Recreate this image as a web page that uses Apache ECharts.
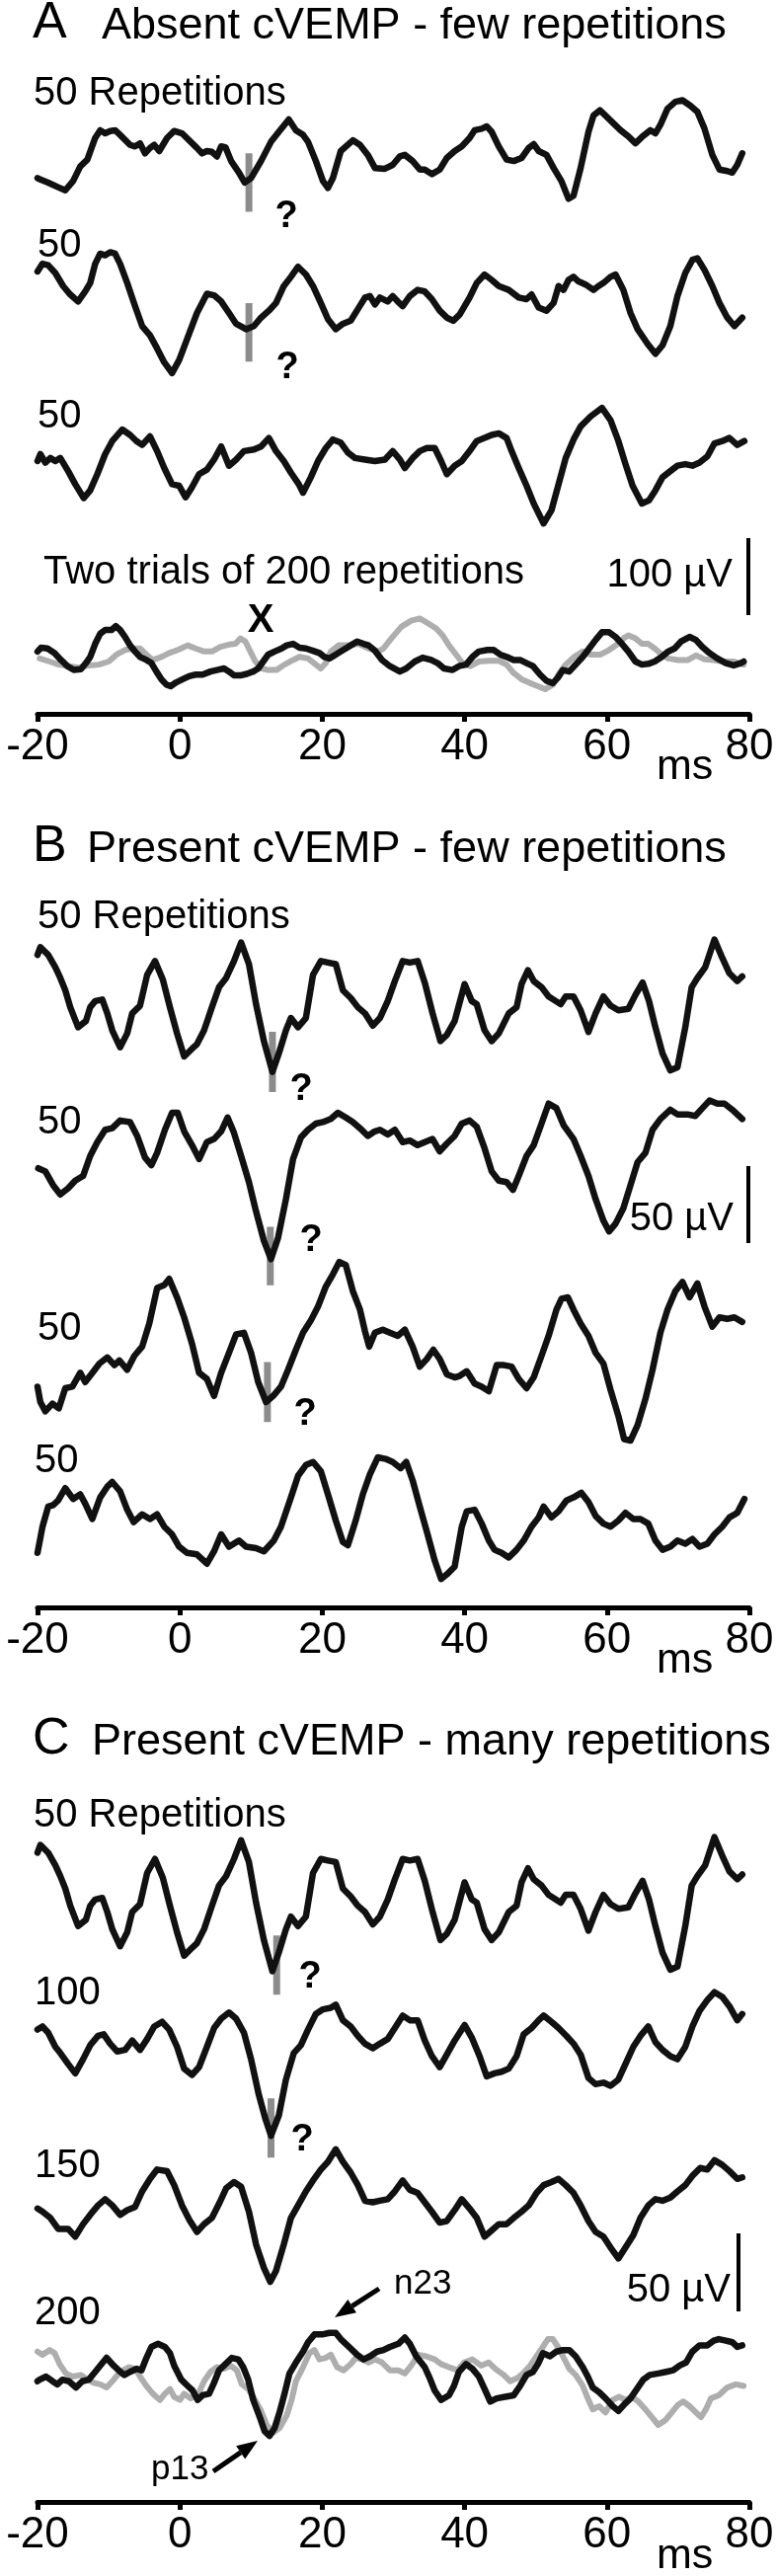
<!DOCTYPE html>
<html>
<head>
<meta charset="utf-8">
<script src="https://cdn.jsdelivr.net/npm/echarts@6/dist/echarts.min.js"></script>
<style>
  html, body { margin: 0; padding: 0; background: #fff; }
  #chart { width: 787px; height: 2609px; }
</style>
</head>
<body>
<div id="chart"></div>
<script>
// time axis (ms)
var xTicks = [-20, 0, 20, 40, 60, 80];

// traces: [ms, uV] relative to each trace's own baseline
var a1 = [[-20,-26],[-19.6,-28],[-18.5,-32],[-17.1,-38],[-16.1,-42],[-15,-30],[-14,-11],[-13,-2],[-11.9,26],[-11.2,36],[-10.5,32],[-9.8,35],[-9.1,36],[-8.4,30],[-7,17],[-6.3,15],[-5.6,19],[-4.9,6],[-4.2,13],[-3.6,17],[-2.9,9],[-1.8,26],[-0.8,35],[0.3,32],[1.3,23],[2.4,13],[3.1,6],[3.8,9],[4.5,8],[5.2,2],[5.8,15],[6.4,14],[7.2,-4],[8.3,-19],[9.1,-32],[10,-26],[11.4,-4],[12.8,21],[13.9,34],[15.3,50],[16.3,36],[17.3,30],[18,21],[19.1,-4],[20.1,-30],[20.8,-39],[21.5,-26],[22.6,9],[24.3,23],[25.3,17],[26.4,4],[27.4,-13],[28.8,-14],[29.9,-9],[30.9,2],[31.6,4],[32.7,-4],[33.7,-15],[34.4,-15],[35.4,-21],[36.5,-15],[37.5,0],[38.6,9],[39.6,15],[40.7,26],[41.4,36],[42.4,38],[43.1,41],[43.8,34],[44.8,15],[45.9,-2],[46.9,-4],[48,0],[49,13],[49.7,18],[50.4,9],[51.5,4],[52.5,-13],[53.6,-30],[54.6,-53],[55.3,-49],[56.3,-13],[57.4,34],[58.1,55],[59,62],[59.8,55],[60.9,45],[61.9,36],[63,28],[64,19],[65,28],[66.1,36],[66.8,32],[67.5,43],[68.5,64],[69.6,73],[70.6,75],[71.7,68],[72.7,60],[73.7,38],[74.8,4],[75.8,-15],[76.9,-17],[77.6,-19],[78.3,-9],[79,6]];
var a2 = [[-20,45],[-19.3,55],[-18.5,53],[-17.5,43],[-16.4,26],[-15.4,15],[-14.3,6],[-13.3,19],[-12.6,30],[-11.9,55],[-11.2,68],[-10.5,66],[-9.8,70],[-9.1,68],[-8.4,55],[-7.4,30],[-6.3,0],[-5.3,-26],[-4.2,-38],[-3.2,-55],[-2.2,-73],[-1.1,-87],[-0.1,-70],[1,-43],[2.4,-9],[3.8,16],[4.8,14],[5.8,6],[6.9,-9],[7.9,-23],[9.3,-30],[10.4,-26],[11.4,-15],[12.5,-6],[13.5,4],[14.6,26],[15.6,38],[16.6,51],[17.7,41],[18.7,26],[19.8,4],[20.8,-17],[21.9,-30],[22.9,-23],[24,-19],[25,-4],[26,11],[26.7,13],[27.4,2],[28.1,11],[29.2,6],[29.9,13],[30.6,6],[31.3,0],[32.3,13],[33.4,21],[34.4,19],[35.4,9],[36.5,-6],[37.5,-15],[38.4,-19],[39.3,-11],[40.7,11],[41.7,30],[42.8,41],[43.8,34],[44.8,26],[46.2,21],[47.6,11],[48.7,9],[49.4,15],[50.4,-2],[51.5,-6],[52.5,4],[53.2,26],[53.9,21],[54.6,34],[55.3,38],[56,32],[57,28],[58.1,21],[58.8,26],[59.5,30],[60.5,38],[61.2,41],[62.3,21],[63.3,-9],[64.3,-30],[65.7,-49],[66.8,-62],[67.8,-51],[68.9,-26],[69.9,13],[71,43],[72,60],[72.7,62],[73.7,47],[74.8,26],[75.8,4],[76.9,-15],[77.9,-26],[79,-15]];
var a3 = [[-20,0],[-19.6,9],[-18.9,-2],[-18.2,4],[-17.5,0],[-16.8,4],[-15.7,-13],[-14.7,-30],[-13.5,-48],[-12.6,-38],[-11.6,-17],[-10.5,9],[-9.5,26],[-8.1,41],[-7,34],[-6.1,26],[-5.3,21],[-4.2,32],[-3.2,13],[-2.2,-9],[-1.1,-30],[-0.1,-32],[0.8,-47],[1.7,-34],[2.7,-17],[3.8,-11],[4.8,2],[5.8,19],[6.9,-6],[7.9,2],[9,13],[10.4,15],[11.4,19],[12.5,30],[13.5,13],[14.6,0],[15.6,-15],[16.7,-30],[17.3,-41],[18.4,-21],[19.4,0],[20.5,17],[21.5,28],[22.6,24],[23.6,11],[24.6,4],[26,2],[27.4,0],[28.8,2],[29.9,13],[30.9,2],[31.6,-9],[32.7,4],[33.7,13],[34.7,17],[35.8,17],[36.7,0],[37.5,-17],[38.6,-6],[39.6,0],[40.7,13],[41.7,26],[42.8,30],[43.8,34],[44.8,36],[45.9,30],[46.6,13],[47.6,-9],[48.7,-32],[49.7,-55],[51.1,-81],[52.2,-64],[53.2,-30],[54.2,4],[55.3,28],[56.3,45],[57.7,58],[59.3,69],[60.5,53],[61.6,26],[62.6,-4],[63.6,-32],[64.9,-55],[65.9,-51],[66.8,-38],[67.8,-21],[68.9,-13],[69.9,-6],[71,-4],[72,-6],[73,-2],[74.1,6],[75.1,23],[76.2,26],[77.2,30],[78.3,21],[79.3,26]];
var a4Black = [[-20,13],[-19.5,18],[-18.6,17],[-17.6,11],[-16.7,2],[-15.8,-6],[-14.9,-11],[-13.9,-10],[-13.2,-2],[-12.6,6],[-11.9,23],[-11.2,36],[-10.5,41],[-9.6,41],[-9,46],[-8.4,41],[-7.7,32],[-7,21],[-6.3,13],[-5.6,6],[-4.7,2],[-4,-2],[-3.3,-13],[-2.6,-23],[-1.9,-30],[-1.3,-32],[-0.5,-27],[0.4,-23],[1.3,-19],[2.2,-17],[3.2,-17],[4.3,-13],[5.2,-11],[6.2,-9],[6.9,-13],[7.6,-18],[8.5,-18],[9.4,-16],[10.3,-13],[11,-9],[11.7,0],[12.4,9],[13.3,13],[14.3,17],[15,21],[15.9,23],[16.8,18],[17.7,17],[18.7,14],[19.6,11],[20.3,6],[21,4],[21.9,9],[22.6,13],[23.3,17],[24,21],[24.9,26],[25.8,23],[26.5,21],[27.4,14],[28.4,2],[29.5,-6],[30.9,-13],[31.8,-9],[33,0],[34.1,5],[35.3,2],[36.2,-2],[37.1,-9],[38.3,-11],[39.2,-6],[40.2,-4],[41.1,6],[42,13],[43.2,15],[44.1,15],[45,9],[45.9,6],[46.9,2],[47.8,2],[48.7,-2],[49.6,-6],[50.6,-17],[51.5,-25],[52.4,-28],[53.1,-21],[53.8,-11],[54.7,-13],[55.6,-4],[56.6,6],[57.5,17],[58.4,28],[59.3,38],[60.3,38],[61.2,32],[62.1,23],[63,13],[64,0],[64.9,-4],[65.8,-3],[66.7,0],[67.7,6],[68.6,13],[69.5,17],[70.4,26],[71.6,32],[72.5,28],[73.4,19],[74.4,11],[75.5,4],[76.7,-2],[77.8,-5],[78.8,-2],[79.2,0]];
var a4Gray = [[-19.7,4],[-18.3,0],[-17,-4],[-15.6,-6],[-14.2,-8],[-12.8,-5],[-11.4,-4],[-10,0],[-8.9,9],[-7.7,15],[-6.5,17],[-5.6,17],[-4.7,9],[-3.8,2],[-2.6,6],[-1.5,11],[-0.3,15],[1.1,21],[2.2,17],[3.4,13],[4.5,13],[5.7,19],[6.9,22],[7.8,23],[8.5,30],[9.2,26],[9.9,13],[10.6,0],[11.5,-9],[12.4,-11],[13.6,-11],[14.7,-4],[15.9,2],[16.8,6],[18,4],[19.1,-4],[19.8,-9],[20.5,-2],[21.2,13],[22.3,21],[23.7,21],[25.1,23],[26.5,17],[27.9,13],[28.6,17],[29.7,30],[31.1,45],[32.5,53],[33.7,56],[34.8,50],[36,43],[36.9,34],[37.8,21],[38.8,9],[39.7,-2],[40.8,-6],[42,0],[43.4,1],[44.8,1],[45.9,-4],[46.9,-15],[48,-23],[49.2,-28],[50.3,-32],[51.3,-36],[52.4,-30],[53.3,-15],[54.2,-4],[55.4,6],[56.6,13],[57.7,9],[59.1,9],[60.3,15],[61.4,22],[62.3,30],[63,34],[64,30],[64.9,23],[65.8,23],[66.7,17],[67.7,9],[68.6,4],[70,2],[71.4,2],[72.5,8],[73.7,3],[75,2],[76.4,0],[77.8,0],[79.2,-4]];
var b1 = [[-20,32],[-19.6,37],[-18.5,32],[-17.5,24],[-16.8,17],[-16.1,9],[-15.4,-2],[-14.3,-15],[-13.2,-11],[-12.6,-2],[-11.9,2],[-10.9,3],[-10.2,-6],[-9.5,-17],[-8.4,-28],[-7.4,-19],[-6.7,-6],[-5.6,-1],[-4.6,19],[-3.5,28],[-2.4,16],[-1.4,-2],[-0.4,-19],[0.6,-34],[1.7,-29],[2.4,-26],[3.4,-17],[4.5,-2],[5.5,11],[6.5,17],[7.6,28],[8.6,40],[9.7,26],[10.7,0],[11.8,-24],[13,-44],[13.9,-32],[14.9,-17],[15.6,-9],[16.6,-15],[17.7,-9],[18.7,19],[19.8,28],[20.8,27],[21.9,26],[22.9,9],[24,4],[25,-2],[26,-6],[27.1,-14],[28.1,-9],[29.2,2],[30.2,15],[31.3,28],[32.3,27],[33.4,28],[34.4,14],[35.5,-6],[36.6,-24],[37.5,-20],[38.6,-11],[40,13],[41,2],[41.7,0],[42.8,-17],[43.8,-24],[44.8,-19],[46.2,-6],[47.3,-2],[48,13],[48.9,22],[49.7,15],[50.8,11],[51.8,5],[52.8,2],[53.5,0],[54.2,5],[55.3,5],[56.3,-4],[57.4,-18],[58.4,-6],[59.5,5],[60.5,-1],[61.6,-4],[63,-3],[64,6],[65,14],[65.9,2],[66.8,-15],[67.8,-32],[68.9,-43],[69.9,-41],[71,-15],[71.9,11],[72.7,17],[73.8,24],[75.1,42],[76.2,30],[77.2,20],[78.3,15],[79,18]];
var b2 = [[-19.9,-4],[-18.9,-6],[-17.8,-15],[-16.8,-21],[-15.7,-17],[-14.7,-12],[-13.6,-9],[-12.6,4],[-11.6,13],[-10.5,21],[-9.5,22],[-8.4,27],[-7,26],[-6,17],[-4.9,3],[-4,-2],[-3.2,6],[-2.1,21],[-1.1,32],[-0.3,32],[0.6,20],[1.7,11],[2.7,2],[3.8,13],[4.8,15],[5.8,20],[6.7,29],[7.6,19],[8.6,4],[9.7,-13],[10.7,-32],[11.8,-51],[12.8,-63],[13.8,-49],[14.9,-24],[15.9,2],[17,16],[18,21],[19.1,25],[20.1,26],[21.2,28],[22.2,32],[23.3,29],[24.3,26],[25.3,22],[26.4,17],[27.4,20],[28.1,21],[29.2,18],[30.2,21],[31.3,13],[32.3,14],[33.4,11],[34.4,13],[35.5,15],[36.5,7],[37.5,12],[38.6,17],[39.6,25],[40.7,27],[41.7,23],[42.8,9],[43.8,-6],[44.8,-12],[45.9,-13],[46.8,-18],[47.6,-9],[48.7,4],[49.7,11],[50.8,25],[51.8,38],[52.9,35],[53.9,24],[55.3,15],[56.3,4],[57.4,-9],[58.4,-24],[59.5,-38],[60.3,-45],[61.2,-40],[62.3,-30],[63.3,-15],[64.3,0],[65.4,6],[66.4,21],[67.5,28],[68.9,34],[69.9,31],[71.3,31],[72.4,30],[73.4,35],[74.4,40],[75.5,38],[76.5,38],[77.6,34],[79,28]];
var b3 = [[-20,-24],[-19.6,-34],[-18.9,-40],[-17.9,-35],[-17,-38],[-16.1,-25],[-15.1,-24],[-14,-15],[-13.3,-21],[-12.3,-15],[-11.3,-9],[-10.2,-5],[-9.2,-10],[-8.5,-7],[-7.4,-13],[-6.4,-4],[-5.3,2],[-4.3,17],[-3.2,40],[-2.2,42],[-1.5,46],[-0.4,34],[0.6,21],[1.7,4],[2.7,-15],[3.8,-19],[4.8,-30],[5.8,-15],[6.9,-2],[7.9,10],[9,11],[10,-2],[11,-21],[12.1,-34],[13.1,-30],[14.2,-24],[15.2,-13],[16.3,0],[17.3,11],[18.4,19],[19.4,28],[20.5,41],[21.5,49],[22.4,57],[23.3,55],[24.3,38],[25.3,26],[26,12],[26.6,2],[27.4,11],[28.5,13],[29.5,11],[30.6,9],[31.6,13],[32.7,2],[33.7,-11],[34.7,-6],[35.6,0],[36.5,-6],[37.5,-16],[38.6,-18],[39.3,-17],[40.3,-14],[41.4,-22],[42.4,-24],[43.4,-27],[44.5,-10],[45.5,-10],[46.6,-11],[47.6,-19],[48.7,-25],[49.7,-18],[50.8,-4],[51.8,9],[52.9,26],[53.6,33],[54.5,34],[55.3,26],[56.3,17],[57.4,9],[58.4,-2],[59.5,-9],[60.5,-26],[61.6,-43],[62.4,-58],[63.3,-59],[64.3,-49],[65.4,-32],[66.4,-13],[67.5,11],[68.5,26],[69.6,38],[70.6,44],[71.6,34],[72.7,43],[73.7,28],[74.8,15],[75.8,21],[76.9,20],[77.9,21],[79,18]];
var b4 = [[-20,-21],[-19.3,-4],[-18.5,9],[-17.8,10],[-17.1,13],[-16.1,21],[-15,14],[-14,17],[-13.3,11],[-12.3,1],[-11.2,15],[-10.2,22],[-9.5,25],[-8.4,19],[-7.4,7],[-6.5,-1],[-5.3,4],[-4.2,1],[-3.2,4],[-2.2,-4],[-1.1,-9],[-0.1,-17],[1,-21],[2.4,-22],[3.8,-28],[4.8,-20],[5.8,-9],[6.9,-17],[8.3,-13],[9.3,-17],[10.7,-18],[11.8,-20],[13.2,-13],[14.2,-4],[15.6,15],[16.6,29],[17.7,36],[18.7,38],[19.8,32],[20.8,17],[21.9,0],[22.9,-14],[23.6,-16],[24.7,0],[25.7,17],[26.7,30],[27.8,41],[28.9,40],[29.9,38],[31,34],[31.8,38],[32.7,26],[33.7,9],[34.8,-9],[35.8,-26],[36.7,-38],[37.5,-35],[38.6,-30],[39.6,-4],[40.3,6],[41.4,7],[42.4,-2],[43.4,-13],[44.2,-19],[45.2,-21],[46.2,-24],[47.3,-19],[48.3,-13],[49.4,-4],[50.4,2],[51.1,9],[52.2,2],[53.2,6],[54.3,13],[55.3,15],[56.4,18],[57.4,12],[58.4,3],[59.5,-2],[60.5,-4],[61.6,0],[62.6,5],[63.7,1],[64.7,1],[65.8,-2],[66.8,-13],[67.8,-19],[68.9,-17],[69.9,-13],[71,-15],[72,-12],[73,-17],[74.1,-15],[75.1,-9],[76.2,-4],[77.2,2],[78.3,5],[79.3,14]];
var c2 = [[-20,11],[-19.3,13],[-18.5,9],[-17.5,0],[-16.8,-4],[-15.7,-11],[-14.7,-17],[-13.6,-8],[-12.6,1],[-11.5,7],[-10.7,8],[-9.8,2],[-8.8,-3],[-7.7,-2],[-6.7,4],[-5.6,-2],[-4.6,5],[-3.6,13],[-2.5,16],[-1.5,11],[-0.4,0],[0.6,-14],[1.7,-18],[2.7,-13],[3.8,0],[4.8,12],[5.8,18],[6.9,22],[7.9,18],[9,9],[10,-8],[11.1,-31],[12,-46],[12.8,-57],[13.9,-44],[14.9,-21],[16,-4],[17,1],[18,11],[19.1,21],[20.1,24],[21.2,25],[21.9,27],[22.9,17],[24,13],[25,7],[26,2],[27.1,-1],[28.1,2],[29.2,5],[30.2,12],[31.3,20],[32.3,17],[33.4,17],[34.4,4],[35.4,-6],[36.5,-13],[37.5,-5],[38.6,4],[40,14],[41,6],[42.1,-6],[43.1,-19],[44.2,-17],[45.2,-16],[46.2,-14],[47.3,-6],[48.3,8],[49.4,12],[50.4,17],[51.1,20],[52.2,16],[53.2,12],[54.3,7],[55.3,2],[56.3,-5],[57.4,-20],[58.4,-24],[59.5,-23],[60.5,-25],[61.6,-21],[62.6,-11],[63.7,0],[64.7,7],[65.8,13],[66.8,3],[67.8,-2],[68.9,-6],[69.9,-8],[71,0],[72,13],[73,23],[74.1,30],[75.1,35],[76.2,32],[77.2,26],[78.3,17],[79,21]];
var c3 = [[-20,2],[-19.3,0],[-18.2,-4],[-17.1,-11],[-15.7,-11],[-14.7,-16],[-13.6,-8],[-12.6,-2],[-11.5,4],[-10.5,8],[-9.5,4],[-8.4,-2],[-7.4,1],[-6.3,3],[-5.3,13],[-4.2,21],[-3.2,27],[-1.8,26],[-0.8,17],[0.3,4],[1.3,-5],[2.4,-13],[3.4,-8],[4.5,-4],[5.6,6],[6.5,15],[7.6,19],[8.6,16],[9.7,0],[10.7,-21],[11.8,-36],[12.7,-45],[13.5,-38],[14.6,-21],[15.6,-4],[16.6,4],[17.7,13],[18.7,20],[19.8,27],[20.8,32],[21.9,40],[22.9,32],[24,25],[25,17],[26,7],[27.1,6],[28.1,7],[29.2,8],[30.2,13],[31.3,20],[32.3,14],[33.4,12],[34.4,6],[35.4,0],[36.5,-7],[37.5,-6],[38.6,1],[39.6,8],[40.7,2],[41.7,-4],[42.8,-16],[43.8,-12],[44.8,-8],[45.9,-8],[46.9,-4],[48,0],[49,4],[50.1,12],[51.1,17],[52.2,19],[53.2,21],[54.2,17],[55.3,12],[56.3,4],[57.4,-6],[58.4,-13],[59.5,-16],[60.5,-23],[61.6,-30],[62.6,-23],[63.7,-15],[64.7,-4],[65.8,4],[66.8,8],[67.8,7],[68.9,9],[69.9,13],[71,17],[72,23],[73.1,28],[74.1,27],[75.1,33],[76.2,30],[77.2,26],[78.3,21],[79,22]];
var c4Black = [[-20,-3],[-19.7,-2],[-18.8,0],[-17.9,-3],[-17.2,-5],[-16.5,-2],[-15.6,-3],[-14.6,-7],[-13.7,-3],[-12.8,-2],[-11.9,3],[-11.2,7],[-10.3,12],[-9.3,7],[-8.6,4],[-7.8,1],[-7,3],[-6.1,5],[-5.4,4],[-4.7,12],[-4,19],[-3.1,21],[-2.1,19],[-1.4,15],[-0.8,7],[0.2,-2],[1.1,-6],[1.8,-9],[2.5,-15],[3.2,-12],[4.1,-11],[4.8,-4],[5.5,4],[6.4,8],[7.3,12],[8.2,11],[8.9,6],[9.6,-2],[10.3,-15],[11.3,-27],[11.9,-35],[12.6,-38],[13.3,-33],[14,-23],[14.7,-11],[15.4,2],[16.3,9],[17.3,16],[18,22],[18.9,27],[20,27],[21,28],[21.9,28],[22.6,24],[23.3,21],[24,18],[24.9,14],[25.8,11],[26.7,13],[27.7,16],[28.6,17],[29.5,19],[30.7,21],[31.6,25],[32.3,21],[33.2,13],[34.4,6],[35.1,-1],[35.8,-9],[36.7,-15],[37.8,-12],[38.5,-6],[39.2,3],[40.2,8],[41.1,5],[42,0],[42.9,-9],[43.6,-16],[44.5,-14],[45.7,-13],[46.9,-12],[47.8,-6],[48.7,1],[49.6,3],[50.3,8],[51,15],[52,13],[52.9,16],[53.8,17],[54.7,17],[55.6,13],[56.6,6],[57.3,0],[58,-7],[58.9,-10],[59.8,-14],[60.8,-19],[61.6,-22],[62.4,-18],[63.3,-14],[64.2,-8],[65.1,-2],[66,1],[67.2,2],[68.3,3],[69.3,4],[70.2,7],[71.1,9],[72,16],[73,20],[74.1,20],[75,23],[75.7,24],[76.7,23],[77.6,22],[78.3,19],[79,20]];
var c4Gray = [[-20,16],[-19.3,14],[-18.3,17],[-17.6,15],[-16.9,8],[-16,2],[-15.1,0],[-13.9,1],[-13,-2],[-12.1,-4],[-11.2,-5],[-10.3,-7],[-9.3,-2],[-8.4,3],[-7.2,6],[-6.3,5],[-5.6,0],[-4.7,-6],[-3.8,-11],[-2.8,-15],[-2.1,-11],[-1.4,-8],[-0.8,-13],[0,-15],[0.6,-11],[1.5,-14],[2.5,-12],[3.4,-3],[4.3,3],[5.2,6],[6.2,5],[7.1,7],[8,4],[8.7,-5],[9.6,-8],[10.3,-13],[11.3,-21],[12.2,-31],[13.1,-36],[14,-33],[15,-25],[15.7,-15],[16.3,-3],[17.3,6],[18.2,15],[18.9,17],[19.6,11],[20.5,12],[21.2,14],[22.1,6],[23,4],[24,8],[24.7,12],[25.6,11],[26.5,9],[27.4,11],[28.4,9],[29.5,4],[30.7,4],[31.6,2],[32.5,7],[33.5,14],[34.6,13],[35.8,11],[36.7,8],[37.8,6],[39,4],[39.9,9],[41.1,11],[42.3,7],[43.4,9],[44.3,5],[45.5,1],[46.4,-3],[47.4,-1],[48.2,2],[49.2,7],[50.1,13],[51,19],[51.7,24],[52.4,24],[53.1,19],[53.8,13],[54.7,5],[55.6,1],[56.6,-6],[57.3,-14],[58,-21],[58.9,-19],[59.8,-23],[60.8,-15],[61.7,-13],[62.6,-15],[63.5,-13],[64.4,-16],[65.4,-21],[66.3,-26],[67.2,-31],[68.2,-28],[69.1,-23],[70,-18],[70.7,-16],[71.6,-19],[72.5,-23],[73.2,-26],[73.9,-21],[74.6,-14],[75.7,-12],[76.9,-7],[78.1,-5],[79.2,-6]];

// latency markers: [ms, top uV, bottom uV] relative to the trace baseline
var markA1 = [9.7, 6, -70];
var markA2 = [9.7, 4, -72];
var markB1 = [13.0, -18, -57];
var markB2 = [12.7, -42, -80];
var markB3 = [12.3, -8, -47];
var markC1 = [13.6, -21, -59];
var markC2 = [12.8, -33, -71];

var kA = 0.78, kB = 1.56, kC = 1.58;   // px per uV in each panel
var FONT = "'Liberation Sans', Arial, sans-serif";
var BLACK = '#111', GRAY = '#aeaeae', MARK = '#8c8c8c';

var rows = [
    {lines: [a1], base: 160, k: kA, mark: markA1},
    {lines: [a2], base: 310, k: kA, mark: markA2},
    {lines: [a3], base: 467, k: kA},
    {lines: [a4Gray, a4Black], gray: 0, base: 670, k: kA},
    {lines: [b1], base: 1017, k: kB, mark: markB1},
    {lines: [b2], base: 1177, k: kB, mark: markB2},
    {lines: [b3], base: 1367, k: kB, mark: markB3},
    {lines: [b4], base: 1540, k: kB},
    {lines: [b1], base: 1927, k: kC, mark: markC1},
    {lines: [c2], base: 2073, k: kC, mark: markC2},
    {lines: [c3], base: 2240, k: kC},
    {lines: [c4Gray, c4Black], gray: 0, base: 2407, k: kC}
];
var axisRows = [723, 1628, 2534];

var grids = [], xAxes = [], yAxes = [], series = [];
rows.forEach(function (r, i) {
    grids.push({left: 38, right: 28, top: r.base - 150, height: 300});
    xAxes.push({type: 'value', gridIndex: i, min: -20, max: 80, show: false});
    yAxes.push({type: 'value', gridIndex: i, min: -150 / r.k, max: 150 / r.k, show: false});
    if (r.mark) {
        series.push({
            type: 'line', xAxisIndex: i, yAxisIndex: i, z: 1, silent: true,
            showSymbol: false, clip: false,
            lineStyle: {color: MARK, width: 7, cap: 'butt'},
            data: [[r.mark[0], r.mark[1]], [r.mark[0], r.mark[2]]]
        });
    }
    r.lines.forEach(function (d, j) {
        var isGray = (r.gray === j);
        series.push({
            type: 'line', xAxisIndex: i, yAxisIndex: i, z: isGray ? 2 : 3,
            showSymbol: false, clip: false, silent: true,
            lineStyle: {color: isGray ? GRAY : BLACK, width: isGray ? 6 : 6.5, join: 'round', cap: 'round'},
            data: d
        });
    });
});
axisRows.forEach(function (y) {
    var i = grids.length;
    grids.push({left: 38, right: 28, top: y - 20, height: 20});
    xAxes.push({
        type: 'value', gridIndex: i, min: xTicks[0], max: xTicks[xTicks.length - 1],
        interval: 20, position: 'bottom',
        axisLine: {onZero: false, lineStyle: {color: '#000', width: 5}},
        axisTick: {show: true, length: 8, lineStyle: {color: '#000', width: 5}},
        axisLabel: {color: '#000', fontSize: 44, fontFamily: FONT, margin: 12, lineHeight: 44,
            showMinLabel: true, showMaxLabel: true},
        splitLine: {show: false}
    });
    yAxes.push({type: 'value', gridIndex: i, min: 0, max: 1, show: false});
});

function txt(s, x, y, size, opt) {
    opt = opt || {};
    return {
        type: 'text', x: x, y: y, z: 10, silent: true,
        style: {
            text: s, fill: '#000',
            font: (opt.bold ? 'bold ' : '') + size + 'px ' + FONT,
            align: opt.align || 'left', textAlign: opt.align || 'left',
            verticalAlign: 'middle', textVerticalAlign: 'middle'
        }
    };
}
function bar(x, y, len) {
    return {type: 'line', z: 10, silent: true, shape: {x1: x, y1: y, x2: x, y2: y + len},
        style: {stroke: '#000', lineWidth: 4}};
}
function arrow(x1, y1, x2, y2) {
    var dx = x2 - x1, dy = y2 - y1, L = Math.sqrt(dx * dx + dy * dy);
    var ux = dx / L, uy = dy / L, bx = x2 - 21 * ux, by = y2 - 21 * uy;
    return [
        {type: 'line', z: 10, silent: true, shape: {x1: x1, y1: y1, x2: bx, y2: by},
            style: {stroke: '#000', lineWidth: 5}},
        {type: 'polygon', z: 10, silent: true,
            shape: {points: [[x2, y2], [bx + 8 * uy, by - 8 * ux], [bx - 8 * uy, by + 8 * ux]]},
            style: {fill: '#000'}}
    ];
}

var graphics = [
    txt('A', 33, 24, 52), txt('Absent cVEMP - few repetitions', 103, 27, 45),
    txt('50 Repetitions', 34, 95, 40), txt('50', 38, 249, 40), txt('50', 38, 422, 40),
    txt('Two trials of 200 repetitions', 44, 580, 40),
    txt('?', 290, 220, 38, {bold: true, align: 'center'}),
    txt('?', 291, 373, 38, {bold: true, align: 'center'}),
    txt('X', 264, 629, 40, {bold: true, align: 'center'}),
    txt('100 \u00b5V', 742, 583, 40, {align: 'right'}), bar(758, 545, 100 * kA),
    txt('ms', 665, 777, 43),

    txt('B', 33, 858, 52), txt('Present cVEMP - few repetitions', 88, 861, 45),
    txt('50 Repetitions', 38, 929, 40), txt('50', 38, 1137, 40), txt('50', 38, 1346, 40),
    txt('50', 35, 1480, 40),
    txt('?', 305, 1104, 38, {bold: true, align: 'center'}),
    txt('?', 315, 1257, 38, {bold: true, align: 'center'}),
    txt('?', 309, 1433, 38, {bold: true, align: 'center'}),
    txt('50 \u00b5V', 743, 1235, 40, {align: 'right'}), bar(758, 1181, 50 * kB),
    txt('ms', 665, 1682, 43),

    txt('C', 33, 1762, 52), txt('Present cVEMP - many repetitions', 93, 1765, 45),
    txt('50 Repetitions', 34, 1839, 40), txt('100', 35, 2019, 40), txt('150', 35, 2194, 40),
    txt('200', 35, 2343, 40),
    txt('?', 314, 2003, 38, {bold: true, align: 'center'}),
    txt('?', 306, 2168, 38, {bold: true, align: 'center'}),
    txt('50 \u00b5V', 740, 2320, 40, {align: 'right'}), bar(748, 2262, 50 * kC),
    txt('n23', 399, 2313, 35), txt('p13', 153, 2501, 35),
    txt('ms', 665, 2589, 43)
].concat(arrow(384, 2318, 339, 2347), arrow(216, 2503, 261, 2472));

var option = {
    animation: false,
    backgroundColor: '#fff',
    grid: grids,
    xAxis: xAxes,
    yAxis: yAxes,
    series: series,
    graphic: graphics
};
var chart = echarts.init(document.getElementById('chart'));
chart.setOption(option);
</script>
</body>
</html>
